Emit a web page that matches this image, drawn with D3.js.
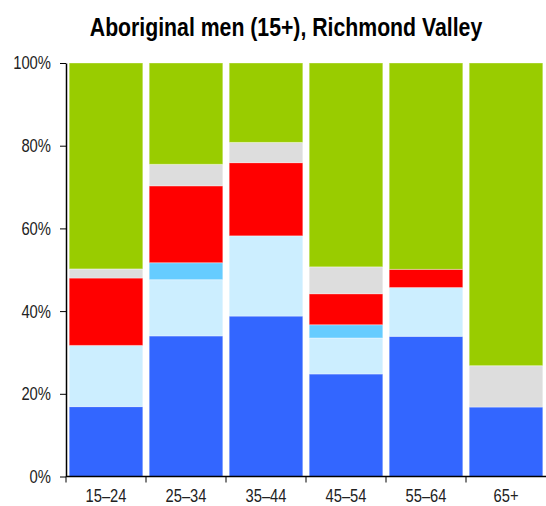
<!DOCTYPE html>
<html lang="en">
	<head>
		<meta charset="utf-8">
		<title>Aboriginal men (15+), Richmond Valley</title>
		<script src="https://d3js.org/d3.v7.min.js"></script>
		<style>
			body { margin: 0; background: #fff; }
			svg { display: block; font-family: "Liberation Sans", Arial, sans-serif; }
		</style>
	</head>
	<body>
		<script type="text/javascript">

			// age groups
			const ageGroups = ["15–24", "25–34", "35–44", "45–54", "55–64", "65+"];

			// shares (%) per segment, bottom to top
			const fullTime   = [16.9, 34.0, 38.8, 24.8, 33.9, 16.8];
			const partTime   = [14.8, 13.6, 19.4,  8.7, 11.8,  0.0];
			const awayWork   = [ 0.0,  4.1,  0.0,  3.2,  0.0,  0.0];
			const unemployed = [16.3, 18.6, 17.7,  7.5,  4.4,  0.0];
			const notStated  = [ 2.2,  5.2,  4.9,  6.5,  0.0, 10.0];
			const notInLF    = [49.8, 24.5, 19.2, 49.3, 49.9, 73.2];

			const yTicks = [0, 20, 40, 60, 80, 100];

			const seriesKeys = ["fullTime", "partTime", "awayWork", "unemployed", "notStated", "notInLF"];
			const seriesColors = ["#3366ff", "#cceeff", "#66ccff", "#ff0000", "#dddddd", "#99cc00"];

			init();

			function init(){
				const cols = {fullTime, partTime, awayWork, unemployed, notStated, notInLF};
				const data = ageGroups.map((g, i) => {
					const row = {group: g};
					seriesKeys.forEach(k => row[k] = cols[k][i]);
					return row;
				});
				drawChart(data);
			}

			function drawChart(data){
				const width = 546;
				const height = 506;
				const marginTop = 63;
				const marginRight = 0;
				const marginBottom = 29.5;
				const marginLeft = 66;
				const narrow = 0.8; // the original uses a condensed face

				const series = d3.stack()
					.keys(seriesKeys)
					.offset(d3.stackOffsetExpand)
					(data);

				const x = d3.scaleBand()
					.domain(ageGroups)
					.range([marginLeft, width - marginRight])
					.paddingInner(0.08)
					.paddingOuter(0.04);

				const y = d3.scaleLinear()
					.domain([0, 100])
					.range([height - marginBottom, marginTop]);

				const color = d3.scaleOrdinal()
					.domain(seriesKeys)
					.range(seriesColors);

				const svg = d3.select("body").append("svg")
					.attr("width", width)
					.attr("height", height)
					.attr("viewBox", [0, 0, width, height]);

				// title
				svg.append("text")
					.attr("transform", "translate(286,35.5) scale(0.85,1)")
					.attr("text-anchor", "middle")
					.style("font-size", "25px")
					.style("font-weight", "bold")
					.text("Aboriginal men (15+), Richmond Valley");

				// stacked bars
				svg.append("g")
					.selectAll("g")
					.data(series)
					.join("g")
					.attr("fill", d => color(d.key))
					.selectAll("rect")
					.data(D => D.filter(d => d[1] - d[0] > 0))
					.join("rect")
					.attr("x", d => x(d.data.group))
					.attr("y", d => y(d[1] * 100))
					.attr("height", d => y(d[0] * 100) - y(d[1] * 100))
					.attr("width", x.bandwidth())
					.attr("stroke", "#fff")
					.attr("stroke-opacity", 0.35)
					.attr("stroke-width", 1);

				// y axis
				svg.append("g")
					.attr("transform", `translate(${marginLeft},0)`)
					.call(d3.axisLeft(y).tickValues(yTicks).tickFormat(d => d + "%").tickSize(6).tickSizeOuter(0))
					.call(g => g.selectAll("text")
						.attr("x", null)
						.attr("transform", `translate(-15,0) scale(${narrow},1)`)
						.style("font-size", "18.5px")
						.attr("fill", "#222"))
					.call(g => g.select(".domain").attr("stroke-width", 1.5));

				// x axis, ticks between bands
				const xAxis = svg.append("g")
					.attr("transform", `translate(0,${height - marginBottom})`);

				xAxis.append("line")
					.attr("x1", marginLeft)
					.attr("x2", width - marginRight)
					.attr("stroke", "#000")
					.attr("stroke-width", 1.5);

				xAxis.selectAll("line.tk")
					.data(ageGroups)
					.join("line")
					.attr("class", "tk")
					.attr("x1", d => x(d) - x.step() * x.paddingOuter())
					.attr("x2", d => x(d) - x.step() * x.paddingOuter())
					.attr("y1", 0)
					.attr("y2", 6)
					.attr("stroke", "#000");

				xAxis.selectAll("text")
					.data(ageGroups)
					.join("text")
					.attr("transform", d => `translate(${x(d) + x.bandwidth() / 2},25) scale(0.84,1)`)
					.attr("text-anchor", "middle")
					.style("font-size", "17.5px")
					.attr("fill", "#222")
					.text(d => d);
			}

		</script>
	</body>
</html>
